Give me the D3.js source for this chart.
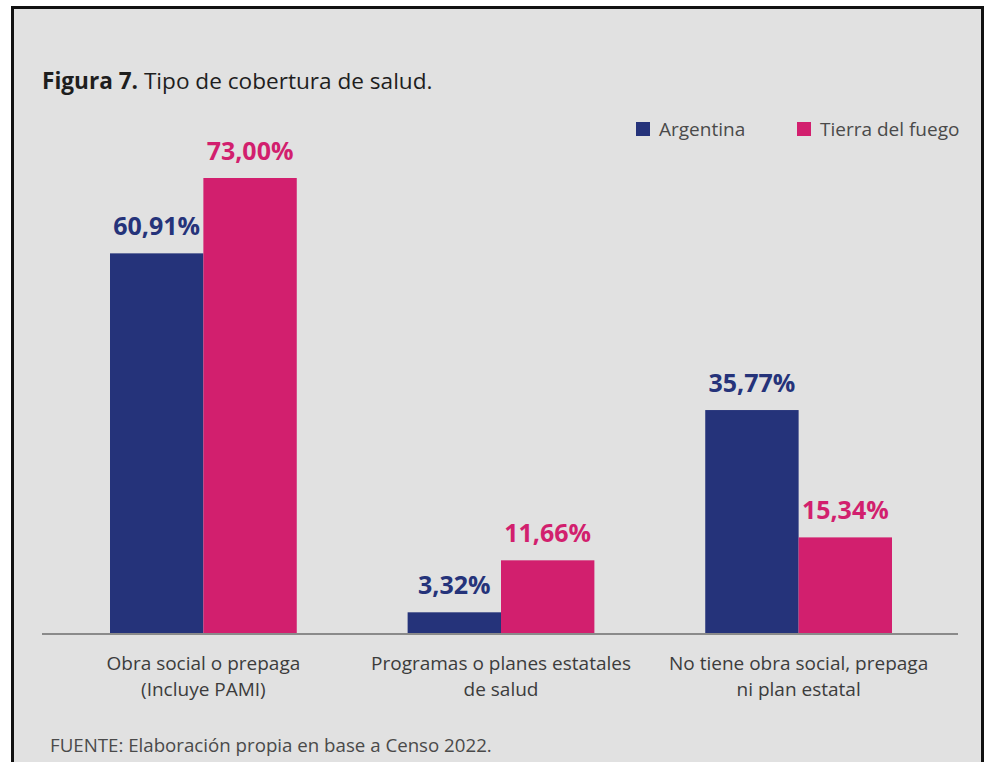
<!DOCTYPE html>
<html>
<head>
<meta charset="utf-8">
<script src="https://cdn.jsdelivr.net/npm/d3@7"></script>
<style>
  body { margin: 0; background: #fff; }
  svg text { font-family: "Open Sans", sans-serif; }
</style>
</head>
<body>
<div id="chart"></div>
<script>
// Data
var categories = [
    ["Obra social o prepaga", "(Incluye PAMI)"],
    ["Programas o planes estatales", "de salud"],
    ["No tiene obra social, prepaga", "ni plan estatal"]
];
var seriesNames = ["Argentina", "Tierra del fuego"];
var argentina = [60.91, 3.32, 35.77];
var tierraDelFuego = [73.00, 11.66, 15.34];
var seriesColors = ["#25337a", "#d21f6e"];

var width = 984, height = 762;

var svg = d3.select("#chart").append("svg")
    .attr("width", width)
    .attr("height", height);

// Frame
svg.append("rect")
    .attr("x", 12.5).attr("y", 7.5)
    .attr("width", 970).attr("height", 800)
    .attr("fill", "#e1e1e1")
    .attr("stroke", "#111")
    .attr("stroke-width", 3);

// Title
var title = svg.append("text")
    .attr("x", 42).attr("y", 89)
    .attr("font-size", 22.6)
    .attr("fill", "#1e1e1e");
title.append("tspan").attr("font-weight", 700).text("Figura 7.");
title.append("tspan").text(" Tipo de cobertura de salud.");

// Scales
var baseY = 633;

var x0 = d3.scaleBand()
    .domain(d3.range(categories.length))
    .range([110, 892])
    .paddingInner(0.3725)
    .paddingOuter(0);

var x1 = d3.scaleBand()
    .domain(d3.range(seriesNames.length))
    .range([0, x0.bandwidth()]);

var y = d3.scaleLinear()
    .domain([0, 73])
    .range([baseY, 178]);

var rows = categories.map(function(c, i) {
    return [argentina[i], tierraDelFuego[i]];
});

var groups = svg.selectAll(".group")
    .data(rows)
    .enter().append("g")
    .attr("class", "group")
    .attr("transform", function(d, i) { return "translate(" + x0(i) + ",0)"; });

groups.selectAll("rect")
    .data(function(d) { return d; })
    .enter().append("rect")
    .attr("x", function(d, j) { return x1(j); })
    .attr("y", function(d) { return y(d); })
    .attr("width", x1.bandwidth())
    .attr("height", function(d) { return baseY - y(d); })
    .attr("fill", function(d, j) { return seriesColors[j]; });

groups.selectAll(".val")
    .data(function(d) { return d; })
    .enter().append("text")
    .attr("class", "val")
    .attr("x", function(d, j) { return x1(j) + x1.bandwidth() / 2; })
    .attr("y", function(d) { return y(d) - 18; })
    .attr("text-anchor", "middle")
    .attr("font-size", 25)
    .attr("font-weight", 700)
    .attr("fill", function(d, j) { return seriesColors[j]; })
    .text(function(d) { return d.toFixed(2).replace(".", ",") + "%"; });

// Baseline
svg.append("line")
    .attr("x1", 42).attr("x2", 958)
    .attr("y1", baseY + 1).attr("y2", baseY + 1)
    .attr("stroke", "#8a8a8a")
    .attr("stroke-width", 2);

// Category labels
var catLabels = svg.selectAll(".cat")
    .data(categories)
    .enter().append("text")
    .attr("class", "cat")
    .attr("text-anchor", "middle")
    .attr("font-size", 19)
    .attr("fill", "#3c3c3c")
    .attr("transform", function(d, i) { return "translate(" + (x0(i) + x0.bandwidth() / 2) + ",0)"; });

catLabels.selectAll("tspan")
    .data(function(d) { return d; })
    .enter().append("tspan")
    .attr("x", 0)
    .attr("y", function(d, k) { return 670 + k * 26; })
    .text(function(d) { return d; });

// Legend
var legendX = [636, 797];
var legend = svg.selectAll(".legend")
    .data(seriesNames)
    .enter().append("g")
    .attr("class", "legend")
    .attr("transform", function(d, i) { return "translate(" + legendX[i] + ",122)"; });

legend.append("rect")
    .attr("width", 14).attr("height", 14)
    .attr("fill", function(d, i) { return seriesColors[i]; });

legend.append("text")
    .attr("x", 23).attr("y", 14)
    .attr("font-size", 19)
    .attr("fill", "#4a4a4a")
    .text(function(d) { return d; });

// Source
svg.append("text")
    .attr("x", 50).attr("y", 752)
    .attr("font-size", 18.7)
    .attr("fill", "#4a4a4a")
    .text("FUENTE: Elaboración propia en base a Censo 2022.");
</script>
</body>
</html>
